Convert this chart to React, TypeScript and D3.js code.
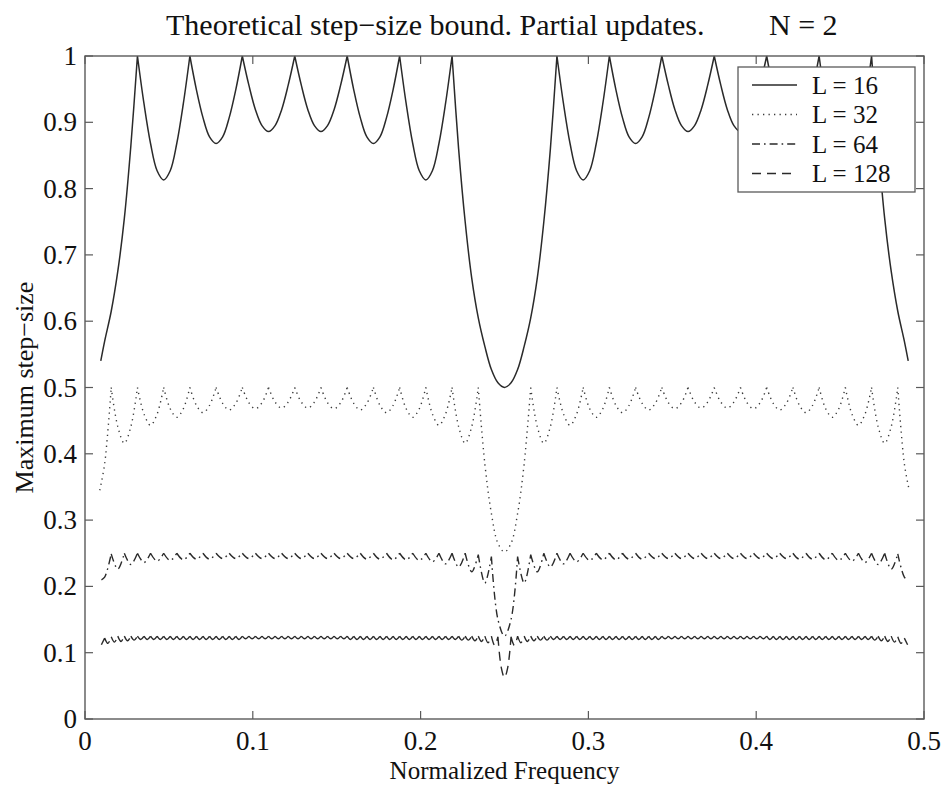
import React from 'react';
import * as d3 from 'd3';

// ---------- axis ticks / labels ----------
const xTickValues = [0, 0.1, 0.2, 0.3, 0.4, 0.5];
const xTickLabels = ['0', '0.1', '0.2', '0.3', '0.4', '0.5'];
const yTickValues = [0, 0.1, 0.2, 0.3, 0.4, 0.5, 0.6, 0.7, 0.8, 0.9, 1];
const yTickLabels = ['0', '0.1', '0.2', '0.3', '0.4', '0.5', '0.6', '0.7', '0.8', '0.9', '1'];
const legendLabels = ['L = 16', 'L = 32', 'L = 64', 'L = 128'];

// ---------- L = 16 : samples every 1/256 from k = 3 .. 125, plus end points ----------
const l16Ends = [[0.0094, 0.54], [0.4906, 0.54]];
const l16FirstK = 3;
const l16Step = 1 / 256;
const l16Values = [
  0.57, 0.615, 0.675, 0.755, 0.865, 1,
  0.928, 0.868, 0.827, 0.813, 0.827, 0.868, 0.928, 1,
  0.949, 0.907, 0.878, 0.868, 0.878, 0.907, 0.949, 1,
  0.956, 0.919, 0.895, 0.886, 0.895, 0.919, 0.956, 1,
  0.956, 0.919, 0.895, 0.886, 0.895, 0.919, 0.956, 1,
  0.949, 0.907, 0.878, 0.868, 0.878, 0.907, 0.949, 1,
  0.928, 0.868, 0.827, 0.813, 0.827, 0.868, 0.928, 1,
  0.86, 0.75, 0.665, 0.605, 0.562, 0.527, 0.507, 0.5,
  0.507, 0.527, 0.562, 0.605, 0.665, 0.75, 0.86, 1,
  0.928, 0.868, 0.827, 0.813, 0.827, 0.868, 0.928, 1,
  0.949, 0.907, 0.878, 0.868, 0.878, 0.907, 0.949, 1,
  0.956, 0.919, 0.895, 0.886, 0.895, 0.919, 0.956, 1,
  0.956, 0.919, 0.895, 0.886, 0.895, 0.919, 0.956, 1,
  0.949, 0.907, 0.878, 0.868, 0.878, 0.907, 0.949, 1,
  0.928, 0.868, 0.827, 0.813, 0.827, 0.868, 0.928, 1,
  0.865, 0.755, 0.675, 0.615, 0.57,
];

// ---------- L = 32 : samples every 1/256 from k = 3 .. 125 ----------
const l32Ends = [[0.0088, 0.345], [0.4912, 0.345]];
const l32FirstK = 3;
const l32Step = 1 / 256;
const l32Values = [
  0.385, 0.5,
  0.441, 0.416, 0.441, 0.5,
  0.46, 0.443, 0.46, 0.5,
  0.468, 0.455, 0.468, 0.5,
  0.473, 0.462, 0.473, 0.5,
  0.476, 0.466, 0.476, 0.5,
  0.477, 0.468, 0.477, 0.5,
  0.478, 0.469, 0.478, 0.5,
  0.478, 0.469, 0.478, 0.5,
  0.477, 0.468, 0.477, 0.5,
  0.476, 0.466, 0.476, 0.5,
  0.473, 0.462, 0.473, 0.5,
  0.468, 0.455, 0.468, 0.5,
  0.46, 0.443, 0.46, 0.5,
  0.441, 0.416, 0.441, 0.5,
  0.385, 0.31, 0.265, 0.252,
  0.265, 0.31, 0.385, 0.5,
  0.441, 0.416, 0.441, 0.5,
  0.46, 0.443, 0.46, 0.5,
  0.468, 0.455, 0.468, 0.5,
  0.473, 0.462, 0.473, 0.5,
  0.476, 0.466, 0.476, 0.5,
  0.477, 0.468, 0.477, 0.5,
  0.478, 0.469, 0.478, 0.5,
  0.478, 0.469, 0.478, 0.5,
  0.477, 0.468, 0.477, 0.5,
  0.476, 0.466, 0.476, 0.5,
  0.473, 0.462, 0.473, 0.5,
  0.468, 0.455, 0.468, 0.5,
  0.46, 0.443, 0.46, 0.5,
  0.441, 0.416, 0.441, 0.5,
  0.385,
];

// ---------- L = 64 : samples every 1/256 from k = 3 .. 125 ----------
const l64Ends = [[0.0098, 0.21], [0.4902, 0.21]];
const l64FirstK = 3;
const l64Step = 1 / 256;
const l64Values = [
  0.214, 0.249, 0.226, 0.25, 0.233, 0.25, 0.236, 0.25, 0.238, 0.25, 0.239, 0.25,
  0.24, 0.25, 0.241, 0.25, 0.241, 0.25, 0.242, 0.25, 0.242, 0.25, 0.242, 0.25,
  0.242, 0.25, 0.242, 0.25, 0.242, 0.25, 0.242, 0.25, 0.242, 0.25, 0.242, 0.25,
  0.242, 0.25, 0.242, 0.25, 0.241, 0.25, 0.241, 0.25, 0.24, 0.25, 0.24, 0.25,
  0.239, 0.25, 0.237, 0.25, 0.234, 0.25, 0.229, 0.25, 0.222, 0.248, 0.205, 0.245, 0.15, 0.125,
  0.15, 0.245, 0.205, 0.248, 0.222, 0.25, 0.229, 0.25, 0.234, 0.25, 0.237, 0.25, 0.239, 0.25,
  0.24, 0.25, 0.24, 0.25, 0.241, 0.25, 0.241, 0.25, 0.242, 0.25, 0.242, 0.25,
  0.242, 0.25, 0.242, 0.25, 0.242, 0.25, 0.242, 0.25, 0.242, 0.25, 0.242, 0.25,
  0.242, 0.25, 0.242, 0.25, 0.242, 0.25, 0.241, 0.25, 0.241, 0.25, 0.24, 0.25,
  0.239, 0.25, 0.238, 0.25, 0.236, 0.25, 0.233, 0.25, 0.226, 0.249, 0.214,
];

// ---------- L = 128 : samples every 1/512 from k = 5 .. 251 ----------
const l128Ends: number[][] = [];
const l128FirstK = 5;
const l128Step = 1 / 512;
const l128Values = [
  0.112, 0.122, 0.114, 0.124, 0.116, 0.125, 0.117, 0.125, 0.118, 0.125, 0.119, 0.125,
  0.12, 0.125, 0.12, 0.125, 0.12, 0.125, 0.12, 0.125, 0.12, 0.125, 0.12, 0.125, 0.12, 0.125, 0.12, 0.125,
  0.12, 0.125, 0.12, 0.125, 0.12, 0.125, 0.12, 0.125, 0.12, 0.125, 0.12, 0.125, 0.12, 0.125, 0.12, 0.125,
  0.121, 0.125, 0.121, 0.125, 0.121, 0.125, 0.121, 0.125, 0.121, 0.125, 0.121, 0.125, 0.121, 0.125, 0.121, 0.125,
  0.121, 0.125, 0.121, 0.125, 0.121, 0.125, 0.121, 0.125, 0.121, 0.125, 0.121, 0.125, 0.121, 0.125, 0.121, 0.125,
  0.12, 0.125, 0.12, 0.125, 0.12, 0.125, 0.12, 0.125, 0.12, 0.125, 0.12, 0.125, 0.12, 0.125, 0.12, 0.125,
  0.12, 0.125, 0.12, 0.125, 0.12, 0.125, 0.12, 0.125, 0.12, 0.125, 0.12, 0.125, 0.12, 0.125, 0.12, 0.125,
  0.12, 0.125, 0.119, 0.125, 0.119, 0.125, 0.118, 0.125, 0.117, 0.125, 0.115, 0.125, 0.111, 0.124, 0.078, 0.0625,
  0.078, 0.124, 0.111, 0.125, 0.115, 0.125, 0.117, 0.125, 0.118, 0.125, 0.119, 0.125, 0.119, 0.125, 0.12, 0.125,
  0.12, 0.125, 0.12, 0.125, 0.12, 0.125, 0.12, 0.125, 0.12, 0.125, 0.12, 0.125, 0.12, 0.125, 0.12, 0.125,
  0.12, 0.125, 0.12, 0.125, 0.12, 0.125, 0.12, 0.125, 0.12, 0.125, 0.12, 0.125, 0.12, 0.125, 0.12, 0.125,
  0.121, 0.125, 0.121, 0.125, 0.121, 0.125, 0.121, 0.125, 0.121, 0.125, 0.121, 0.125, 0.121, 0.125, 0.121, 0.125,
  0.121, 0.125, 0.121, 0.125, 0.121, 0.125, 0.121, 0.125, 0.121, 0.125, 0.121, 0.125, 0.121, 0.125, 0.121, 0.125,
  0.12, 0.125, 0.12, 0.125, 0.12, 0.125, 0.12, 0.125, 0.12, 0.125, 0.12, 0.125, 0.12, 0.125, 0.12, 0.125,
  0.12, 0.125, 0.12, 0.125, 0.12, 0.125, 0.12, 0.125, 0.12, 0.125, 0.12, 0.125, 0.12, 0.125, 0.12, 0.125,
  0.119, 0.125, 0.118, 0.125, 0.117, 0.125, 0.116, 0.124, 0.114, 0.122, 0.112,
];

type Pt = [number, number];

function buildSeries(values: number[], firstK: number, step: number, ends: number[][]): Pt[] {
  const pts: Pt[] = values.map((v, i) => [(firstK + i) * step, v] as Pt);
  if (ends.length === 2) {
    return [[ends[0][0], ends[0][1]], ...pts, [ends[1][0], ends[1][1]]];
  }
  return pts;
}

// split a series at its cusps (local maxima) so each arch is smoothed on its own
function splitAtPeaks(pts: Pt[]): Pt[][] {
  const segs: Pt[][] = [];
  let cur: Pt[] = [pts[0]];
  for (let i = 1; i < pts.length; i++) {
    cur.push(pts[i]);
    if (i < pts.length - 1 && pts[i][1] > pts[i - 1][1] && pts[i][1] >= pts[i + 1][1]) {
      segs.push(cur);
      cur = [pts[i]];
    }
  }
  if (cur.length > 1) segs.push(cur);
  return segs;
}

const FONT = '"Liberation Serif", "Times New Roman", Times, serif';

export default function App() {
  const W = 946;
  const H = 785;
  const left = 85, right = 924, top = 56, bottom = 719;

  const x = d3.scaleLinear().domain([0, 0.5]).range([left, right]);
  const y = d3.scaleLinear().domain([0, 1]).range([bottom, top]);
  const line = d3.line<Pt>().x(d => x(d[0])).y(d => y(d[1])).curve(d3.curveCatmullRom.alpha(0.5));

  const series = [
    { pts: buildSeries(l16Values, l16FirstK, l16Step, l16Ends), dash: undefined as string | undefined, w: 1.5, color: '#2a2a2a' },
    { pts: buildSeries(l32Values, l32FirstK, l32Step, l32Ends), dash: '1.3,4.2', w: 1.4, color: '#3a3a3a' },
    { pts: buildSeries(l64Values, l64FirstK, l64Step, l64Ends), dash: '8,4,1.6,4', w: 1.4, color: '#2a2a2a' },
    { pts: buildSeries(l128Values, l128FirstK, l128Step, l128Ends), dash: '9,6', w: 1.4, color: '#2a2a2a' },
  ];

  const pathFor = (pts: Pt[]) => splitAtPeaks(pts).map(seg => line(seg) || '').join(' ');

  const tickLen = 8;
  const axisColor = '#5a5a5a';

  const legX = 738, legY = 67, legW = 177, legH = 125;

  return (
    <svg width={W} height={H} style={{ position: 'absolute', left: 0, top: 0, background: '#fff' }}
      fontFamily={FONT}>
      <rect x={0} y={0} width={W} height={H} fill="#fff" />
      <defs>
        <clipPath id="plotClip">
          <rect x={left} y={top - 1} width={right - left} height={bottom - top + 1} />
        </clipPath>
      </defs>

      {/* title */}
      <text y={35} fontSize={30} fill="#111">
        <tspan x={166}>Theoretical step−size bound. Partial updates.</tspan>
        <tspan x={769}>N = 2</tspan>
      </text>

      {/* series */}
      <g clipPath="url(#plotClip)">
        {series.map((s, i) => (
          <path key={i} d={pathFor(s.pts)} fill="none" stroke={s.color} strokeWidth={s.w}
            strokeDasharray={s.dash} strokeLinejoin="round" />
        ))}
      </g>

      {/* axes frame */}
      <rect x={left} y={top} width={right - left} height={bottom - top} fill="none"
        stroke={axisColor} strokeWidth={1.4} />

      {/* x ticks */}
      {xTickValues.map((v, i) => (
        <g key={'xt' + i}>
          <line x1={x(v)} x2={x(v)} y1={bottom} y2={bottom - tickLen} stroke={axisColor} strokeWidth={1.2} />
          <line x1={x(v)} x2={x(v)} y1={top} y2={top + tickLen} stroke={axisColor} strokeWidth={1.2} />
          <text x={x(v)} y={750} fontSize={27} textAnchor="middle" fill="#111">{xTickLabels[i]}</text>
        </g>
      ))}

      {/* y ticks */}
      {yTickValues.map((v, i) => (
        <g key={'yt' + i}>
          <line x1={left} x2={left + tickLen} y1={y(v)} y2={y(v)} stroke={axisColor} strokeWidth={1.2} />
          <line x1={right} x2={right - tickLen} y1={y(v)} y2={y(v)} stroke={axisColor} strokeWidth={1.2} />
          <text x={77} y={y(v) + 9} fontSize={27} textAnchor="end" fill="#111">{yTickLabels[i]}</text>
        </g>
      ))}

      {/* axis labels */}
      <text x={(left + right) / 2} y={779} fontSize={25} textAnchor="middle" fill="#111">Normalized Frequency</text>
      <text transform={`translate(33, ${(top + bottom) / 2}) rotate(-90)`} fontSize={26} textAnchor="middle" fill="#111">
        Maximum step−size
      </text>

      {/* legend */}
      <rect x={legX} y={legY} width={legW} height={legH} fill="#fff" stroke={axisColor} strokeWidth={1.3} />
      {legendLabels.map((lab, i) => {
        const ry = 85 + i * 29.5;
        const s = series[i];
        return (
          <g key={'lg' + i}>
            <line x1={752} x2={797} y1={ry} y2={ry} stroke={s.color} strokeWidth={s.w} strokeDasharray={s.dash} />
            <text x={812} y={ry + 8.5} fontSize={25} fill="#111">{lab}</text>
          </g>
        );
      })}
    </svg>
  );
}
